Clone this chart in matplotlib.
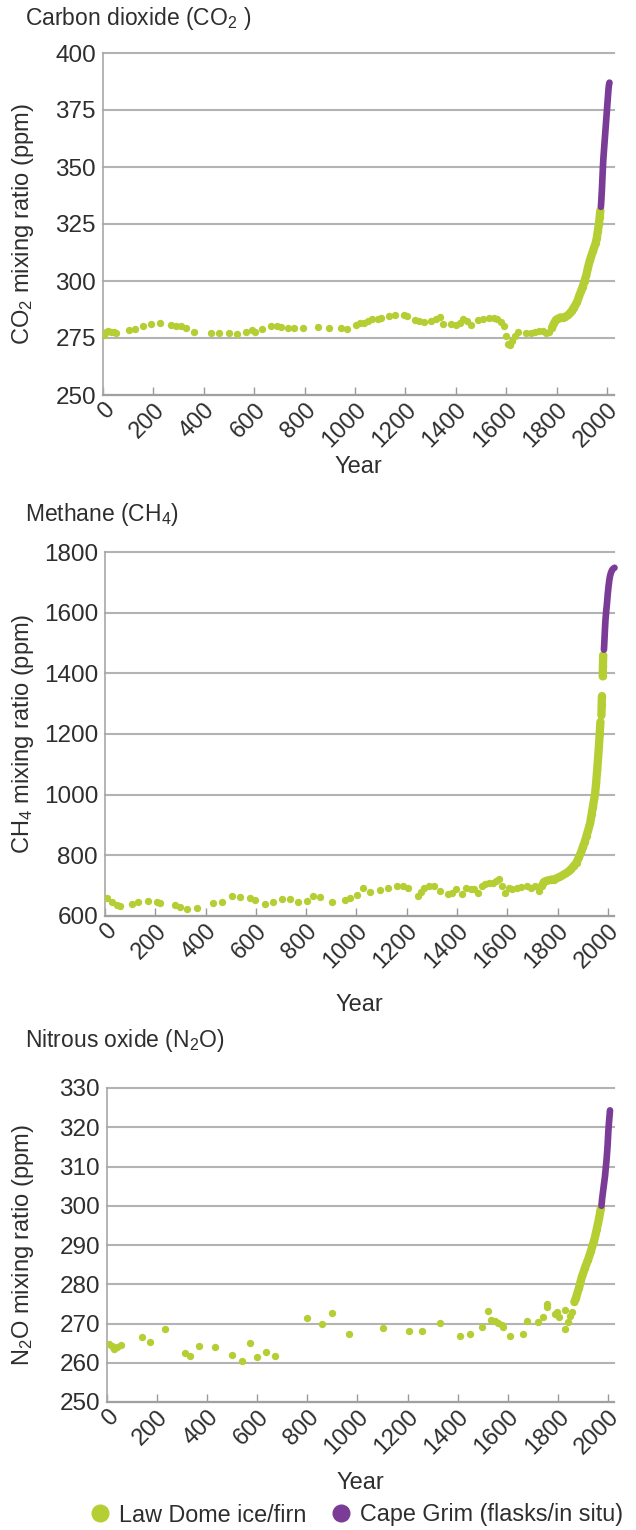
import matplotlib.pyplot as plt
import numpy as np
from matplotlib.lines import Line2D

plt.rcParams['font.family'] = ['Liberation Sans', 'DejaVu Sans']
plt.rcParams['mathtext.fontset'] = 'custom'
plt.rcParams['mathtext.rm'] = 'Liberation Sans'
plt.rcParams['mathtext.default'] = 'regular'

GREEN = '#b5ce34'
PURPLE = '#7b3c97'
GRID = '#b3b3b3'
TXT = '#2e2e2e'

W, H = 636, 1530

# ---- CO2 (ppm) ----
co2_ld_year = [5, 12, 20, 30, 42, 52, 105, 128, 160, 190, 225, 270, 290, 310, 330, 362,
               428, 462, 500, 533, 568, 590, 605, 630, 665, 690, 705, 735, 760, 795, 855,
               895, 945, 968, 1005, 1018, 1035, 1050, 1068, 1090, 1105, 1135, 1160, 1195,
               1205, 1240, 1255, 1275, 1300, 1320, 1337, 1350, 1380, 1400, 1415, 1430, 1445,
               1462, 1490, 1510, 1530, 1550, 1565, 1580, 1592, 1600, 1608, 1615, 1625, 1635,
               1648, 1680, 1700, 1715, 1730, 1745, 1760, 1772,
               1782, 1790, 1798, 1806, 1815, 1825, 1835, 1845, 1852, 1860, 1868, 1875, 1882,
               1890, 1897, 1904, 1911, 1918, 1925, 1932, 1938, 1944, 1950, 1955, 1960, 1964,
               1968, 1971, 1974]
co2_ld_ppm = [276.5, 277.8, 278, 277.6, 277.8, 277.4, 278.3, 279, 280.3, 281, 281.7, 280.5,
              280.3, 280.2, 279.2, 277.7, 277.4, 277.4, 277.1, 276.9, 277.7, 278.3, 277.8,
              279, 280.3, 280.4, 280, 279.4, 279.3, 279.2, 280, 279.5, 279.4, 279, 280.5,
              281.5, 281.5, 282.4, 283.5, 283.3, 283.6, 284.7, 285, 285, 284.6, 283, 282.3,
              282, 282.3, 283.5, 284.3, 281.3, 281.3, 280.7, 281.5, 283.2, 282.5, 280.5, 283,
              283.3, 283.6, 283.8, 283.2, 282, 280.2, 276, 272.5, 272, 273.8, 276, 277.8,
              277, 277.3, 277.8, 278.2, 277.9, 277.3, 277.5,
              279.5, 281.5, 283, 283.5, 284, 283.8, 284.3, 285, 285.8, 286.8, 288.3, 289.5,
              291, 293.5, 295.5, 297.5, 300, 302.5, 306, 309, 311, 313, 315, 316.5, 319, 322,
              325, 328, 331]
co2_cg_year = [1976, 1978, 1980, 1982, 1984, 1986, 1988, 1990, 1992, 1994, 1996, 1998, 2000,
               2002, 2004, 2006, 2008, 2010]
co2_cg_ppm = [332.5, 336, 340, 345, 350, 354, 357, 360, 363, 366, 369, 372, 375, 378, 381,
              384, 386, 387]
co2_ticks = [250, 275, 300, 325, 350, 375, 400]

# ---- CH4 ----
ch4_ld_year = [7, 27, 46, 60, 106, 133, 172, 205, 219, 278, 298, 325, 365, 431, 464, 504,
               537, 576, 596, 636, 669, 703, 736, 769, 802, 828, 855, 901, 954, 974, 1001,
               1027, 1054, 1093, 1126, 1163, 1185, 1203, 1243, 1255, 1267, 1290, 1307, 1332,
               1364, 1380, 1397, 1421, 1437, 1455, 1469, 1485, 1500, 1510, 1525, 1542, 1555,
               1566, 1580, 1590, 1606, 1620, 1639, 1655, 1679, 1695, 1710, 1727,
               1738, 1745, 1755, 1765, 1775, 1785, 1795, 1805, 1815, 1825, 1835, 1845, 1855,
               1865, 1875, 1885, 1893, 1900, 1908, 1915, 1922, 1929, 1935, 1940, 1945, 1949,
               1953, 1957, 1961, 1964, 1967, 1970, np.nan, 1974, 1975, 1976, np.nan, 1979,
               1980, 1981]
ch4_ld_val = [658, 647, 636, 633, 638, 645, 649, 645, 642, 636, 631, 623, 625, 644, 645, 666,
              664, 658, 653, 640, 647, 656, 655, 647, 649, 666, 664, 646, 653, 660, 669, 691,
              680, 686, 691, 699, 700, 693, 666, 680, 693, 700, 699, 682, 671, 676, 688, 671,
              693, 690, 688, 677, 700, 704, 708, 710, 714, 721, 700, 677, 693, 690, 693, 695,
              699, 693, 700, 682,
              700, 712, 716, 718, 720, 720, 724, 728, 732, 737, 742, 748, 756, 766, 776, 795,
              810, 827, 845, 865, 885, 906, 935, 960, 985, 1005, 1040, 1080, 1125, 1160, 1200,
              1240, np.nan, 1262, 1295, 1325, np.nan, 1390, 1425, 1460]
ch4_cg_year = [1984, 1986, 1988, 1990, 1993, 1996, 1999, 2002, 2005, 2008, 2012, 2016, 2021,
               2026]
ch4_cg_val = [1478, 1510, 1545, 1575, 1605, 1630, 1660, 1685, 1705, 1720, 1732, 1740, 1745,
              1748]
ch4_ticks = [600, 800, 1000, 1200, 1400, 1600, 1800]

# ---- N2O ----
n2o_ld_year = [8, 18, 26, 38, 55, 141, 173, 230, 310, 331, 367, 432, 501, 540, 572, 597, 634,
               669, 799, 857, 897, 965, 1103, 1206, 1256, 1329, 1409, 1449, 1496, 1522, 1534,
               1549, 1562, 1575, 1582, 1609, 1662, 1677, 1722, 1742, 1755, 1758, 1790, 1795,
               1806, 1827, 1828, 1840, 1848, 1858,
               1866, 1872, 1878, 1884, 1890, 1896, 1902, 1908, 1914, 1920, 1926, 1932, 1938,
               1944, 1950, 1955, 1960, 1965, 1969, 1972]
n2o_ld_val = [264.7, 264.2, 263.6, 263.9, 264.5, 266.6, 265.4, 268.7, 262.6, 261.7, 264.3,
              264, 262.1, 260.4, 265.1, 261.5, 262.8, 261.7, 271.4, 269.8, 272.6, 267.3,
              268.8, 268.2, 268, 270.2, 266.7, 267.3, 269, 273.3, 271, 270.7, 270.2, 269.5,
              269, 266.7, 267.4, 270.6, 270.5, 271.6, 275, 274.3, 272.5, 273, 271.6, 273.5,
              268.5, 270.5, 272, 273,
              275.5, 276.5, 277.8, 279, 280.5, 282, 283, 284.2, 285.2, 286.2, 287.3, 288.5,
              289.8, 291, 292.5, 294, 295.5, 297, 298.5, 299.5]
n2o_cg_year = [1974, 1977, 1980, 1984, 1988, 1991, 1994, 1997, 1999, 2001, 2003, 2005, 2007,
               2008]
n2o_cg_val = [300, 302, 303.5, 305.5, 307.5, 309.5, 311.5, 314, 316, 318.5, 320.5, 322,
              323.5, 324.3]
n2o_ticks = [250, 260, 270, 280, 290, 300, 310, 320, 330]

years = list(range(0, 2001, 200))

fig = plt.figure(figsize=(W / 100, H / 100), dpi=100)


def panel(px, xmax, ld_year, ld_val, cg_year, cg_val, dense_from, yticks,
          title, title_y, ylabel, year_y):
    l, r, t, b = px
    ax = fig.add_axes([l / W, 1 - b / H, (r - l) / W, (b - t) / H])
    ax.set_xlim(0, xmax)
    ax.set_ylim(yticks[0], yticks[-1])

    ld_year = np.array(ld_year, dtype=float)
    ld_val = np.array(ld_val, dtype=float)
    # sparse ice core samples as dots, the dense recent part as a thick trace
    ax.scatter(ld_year, ld_val, s=28, color=GREEN, lw=0, zorder=3)
    i0 = np.argmax(ld_year >= dense_from)
    ax.plot(ld_year[i0:], ld_val[i0:], color=GREEN, lw=6, solid_capstyle='round', zorder=3)
    ax.plot(cg_year, cg_val, color=PURPLE, lw=4.8, solid_capstyle='round', zorder=4,
            clip_on=False)

    ax.set_xticks(years)
    ax.set_xticklabels([str(y) for y in years], rotation=45, ha='right', va='top',
                       rotation_mode='anchor')
    ax.set_yticks(yticks)
    ax.tick_params(axis='x', direction='in', length=6, width=1, color='#999999',
                   labelsize=17, labelcolor=TXT, pad=3)
    ax.tick_params(axis='y', length=0, pad=5, labelsize=17.5, labelcolor=TXT)

    ax.grid(axis='y', color=GRID, lw=1.5)
    for gl in ax.get_ygridlines():
        gl.set_clip_on(False)
    ax.set_axisbelow(True)
    for s in ('top', 'right'):
        ax.spines[s].set_visible(False)
    ax.spines['left'].set_color('#a8a8a8')
    ax.spines['left'].set_linewidth(1.2)
    ax.spines['bottom'].set_color('#a0a0a0')
    ax.spines['bottom'].set_linewidth(1.6)

    ax.set_xlabel('Year', fontsize=17, color=TXT, va='center')
    ax.xaxis.set_label_coords(0.5, -(year_y - b) / (b - t))
    ax.set_ylabel(ylabel, fontsize=17, color=TXT, va='center')
    ax.yaxis.set_label_coords((23 - l) / (r - l), 0.5)

    fig.text(25 / W, 1 - title_y / H, title, fontsize=16.5, color=TXT, va='center')
    return ax


panel((103, 614, 53, 395), 2028, co2_ld_year, co2_ld_ppm, co2_cg_year, co2_cg_ppm, 1775,
      co2_ticks, 'Carbon dioxide (CO$_2$ )', 19, 'CO$_2$ mixing ratio (ppm)', 467)
panel((105, 614, 552, 916), 2024, ch4_ld_year, ch4_ld_val, ch4_cg_year, ch4_cg_val, 1735,
      ch4_ticks, 'Methane (CH$_4$)', 515, 'CH$_4$ mixing ratio (ppm)', 1005)
panel((107, 614, 1088, 1402), 2024, n2o_ld_year, n2o_ld_val, n2o_cg_year, n2o_cg_val, 1863,
      n2o_ticks, 'Nitrous oxide (N$_2$O)', 1040, 'N$_2$O mixing ratio (ppm)', 1483)

handles = [Line2D([], [], ls='none', marker='o', ms=12, color=GREEN, label='Law Dome ice/firn'),
           Line2D([], [], ls='none', marker='o', ms=12, color=PURPLE,
                  label='Cape Grim (flasks/in situ)')]
fig.legend(handles=handles, loc='center', bbox_to_anchor=(357 / W, 1 - 1515 / H), ncol=2,
           frameon=False, fontsize=16.8, handlelength=0.8, handletextpad=0.4,
           columnspacing=1.1, borderpad=0, borderaxespad=0, labelcolor=TXT)

fig.savefig('out.png', dpi=100)
